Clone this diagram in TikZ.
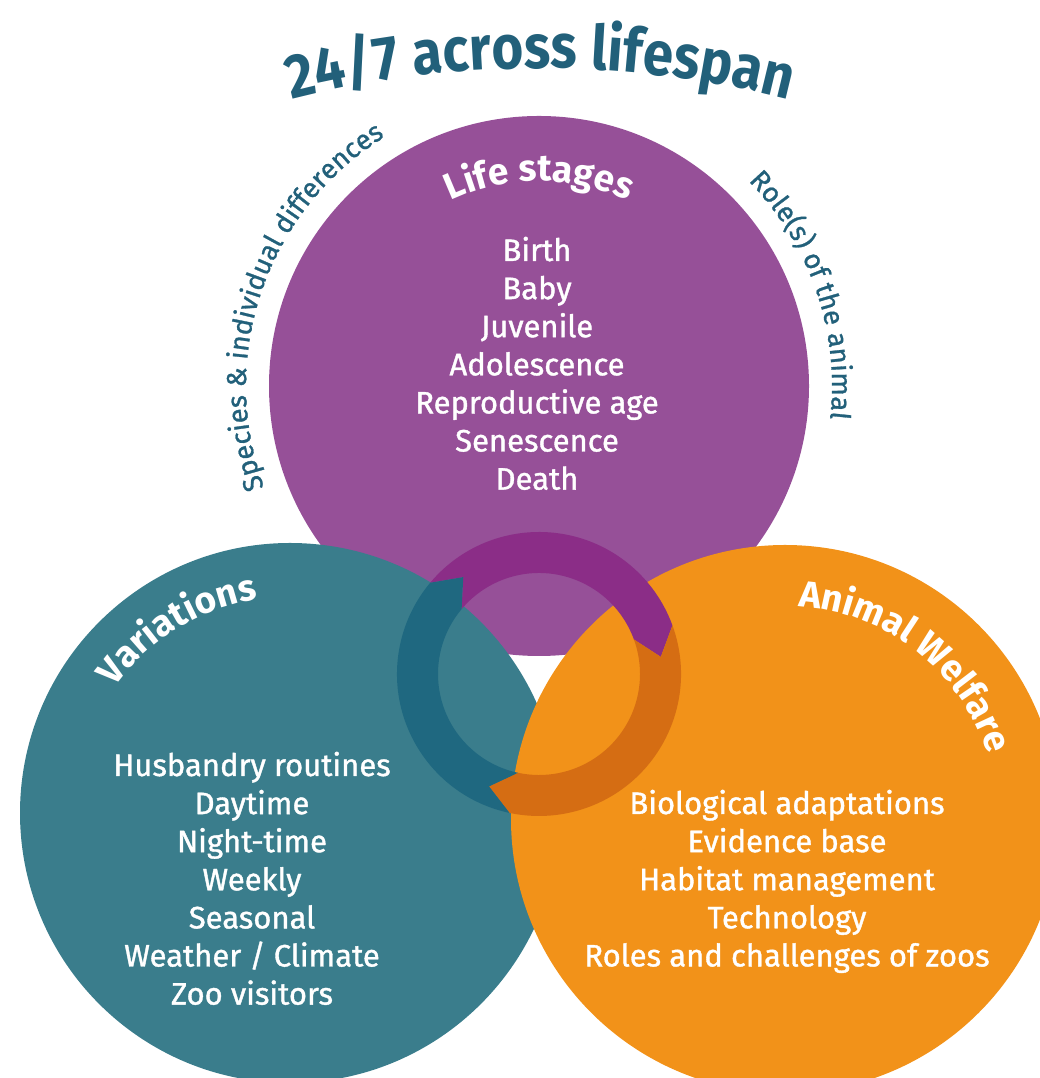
\documentclass[tikz,border=0pt]{standalone}
\usepackage{fontspec}
\setmainfont{Fira Sans}
\newfontfamily\titlef[FakeStretch=0.88]{Fira Sans}
\newfontfamily\bodyf[FakeBold=1.2]{Fira Sans}
\newfontfamily\sidef[FakeBold=1.0]{Fira Sans}
\usetikzlibrary{decorations.text}
\definecolor{purpleC}{RGB}{150,80,152}
\definecolor{tealC}{RGB}{58,125,140}
\definecolor{orangeC}{RGB}{242,146,25}
\definecolor{purpleD}{RGB}{139,45,135}
\definecolor{tealD}{RGB}{31,104,128}
\definecolor{orangeD}{RGB}{213,109,19}
\definecolor{textC}{RGB}{34,96,122}
\begin{document}
\begin{tikzpicture}[x=1pt,y=1pt,
  bodytext/.style={text=white, font=\bodyf\fontsize{31}{31}\selectfont, anchor=base, inner sep=0pt}]
\useasboundingbox (0,0) rectangle (1040,1078);
\clip (0,0) rectangle (1040,1078);
\coordinate (pc) at (539,692);
\coordinate (tc) at (290,265);
\coordinate (oc) at (785,259);
\coordinate (rc) at (539,404);
\coordinate (tt) at (540,10);
% circles
\fill[purpleC] (pc) circle[radius=270];
\fill[tealC] (tc) circle[radius=270];
\fill[orangeC] (oc) circle[radius=274];
% ring of arrows
\begin{scope}[shift={(rc)}]
\fill[purpleD] (140:142) arc[start angle=140,end angle=20,radius=142] -- (8:123) -- (20:101) arc[start angle=20,end angle=140,radius=101] -- (128:123) -- cycle;
\fill[orangeD] (20:142) arc[start angle=20,end angle=-102,radius=142] -- (-114:123) -- (-102:101) arc[start angle=-102,end angle=20,radius=101] -- (8:123) -- cycle;
\fill[tealD] (258:142) arc[start angle=258,end angle=140,radius=142] -- (128:123) -- (140:101) arc[start angle=140,end angle=258,radius=101] -- (246:123) -- cycle;
\end{scope}
% title and side texts
\path[decorate, decoration={text along path, text align=center, text color=textC,
  text={|\titlef\bfseries\fontsize{62}{62}\selectfont|24/7 across lifespan}}]
  ([shift={(125:1000)}]tt) arc[start angle=125, end angle=55, radius=1000];
\path[decorate, decoration={text along path, text align=center, text color=textC,
  text={|\sidef\fontsize{27.5}{27.5}\selectfont|Species {\&} individual differences}}]
  ([shift={(211:293)}]pc) arc[start angle=211, end angle=111, radius=293];
\path[decorate, decoration={text along path, text align=center, text color=textC,
  text={|\sidef\fontsize{27.5}{27.5}\selectfont|Role(s) of the animal}}]
  ([shift={(61:293)}]pc) arc[start angle=61, end angle=-23, radius=293];
% headings
\path[decorate, decoration={text along path, text align=center, text color=white,
  text={|\bfseries\fontsize{37}{37}\selectfont|Life stages}}]
  ([shift={(135:205)}]pc) arc[start angle=135, end angle=45, radius=205];
\path[decorate, decoration={text along path, text align=center, text color=white,
  text={|\bfseries\fontsize{37}{37}\selectfont|Variations}}]
  ([shift={(175:216)}]tc) arc[start angle=175, end angle=68, radius=216];
\path[decorate, decoration={text along path, text align=center, text color=white,
  text={|\bfseries\fontsize{37}{37}\selectfont|Animal Welfare}}]
  ([shift={(105:213)}]oc) arc[start angle=105, end angle=-1, radius=213];
% lists
\foreach \t [count=\i from 0] in {Birth,Baby,Juvenile,Adolescence,Reproductive age,Senescence,Death}
  \node[bodytext] (life\i) at (537,{817-38.1*\i}) {\t};
\foreach \t [count=\i from 0] in {Husbandry routines,Daytime,Night-time,Weekly,Seasonal,Weather / Climate,Zoo visitors}
  \node[bodytext] (var\i) at (252,{302-38.1*\i}) {\t};
\foreach \t [count=\i from 0] in {Biological adaptations,Evidence base,Habitat management,Technology,Roles and challenges of zoos}
  \node[bodytext] (wel\i) at (787,{264-38.1*\i}) {\t};
\end{tikzpicture}
\end{document}
